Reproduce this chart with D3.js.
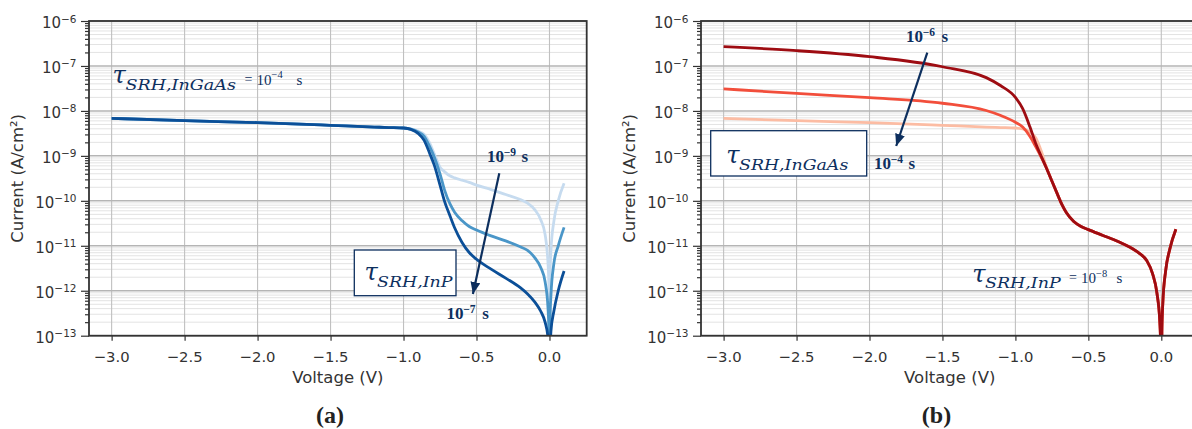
<!DOCTYPE html>
<html><head><meta charset="utf-8">
<script src="https://cdn.jsdelivr.net/npm/d3@7/dist/d3.min.js"></script>
<style>body{margin:0;background:#fff}svg{display:block}</style>
</head><body>
<svg id="chart" width="1192" height="429"></svg>
<script>
// ---------------- data ----------------
const voltage = [-3.0, -2.5, -2.0, -1.5, -1.2, -1.1, -1.0, -0.95, -0.9, -0.86, -0.82, -0.79, -0.75, -0.72, -0.68, -0.65, -0.6, -0.55, -0.5, -0.4, -0.3, -0.2, -0.15, -0.1, -0.06, -0.03, -0.01, -0.004, 0.0, 0.004, 0.01, 0.03, 0.06, 0.1];

// panel (a): tau_SRH,InGaAs = 1e-4 s, tau_SRH,InP varied
const curA_InP_1e9 = [6.85e-9, 6.07e-9, 5.5e-9, 4.79e-9, 4.37e-9, 4.27e-9, 4.17e-9, 3.98e-9, 3.55e-9, 3.02e-9, 1.9e-9, 1.12e-9, 5.6e-10, 4.47e-10, 3.55e-10, 3.24e-10, 2.88e-10, 2.57e-10, 2.24e-10, 1.78e-10, 1.38e-10, 1.07e-10, 8.9e-11, 6.3e-11, 3.8e-11, 1.78e-11, 4.0e-12, 1.26e-12, 1e-16, 2.5e-12, 7.9e-12, 3.5e-11, 1.0e-10, 2.45e-10];
const curA_InP_1e8 = [6.85e-9, 6.07e-9, 5.5e-9, 4.79e-9, 4.37e-9, 4.27e-9, 4.17e-9, 3.95e-9, 3.39e-9, 2.75e-9, 1.58e-9, 9.5e-10, 3.98e-10, 1.78e-10, 8.3e-11, 5.6e-11, 3.63e-11, 2.69e-11, 2.24e-11, 1.66e-11, 1.29e-11, 9.5e-12, 7.9e-12, 5.4e-12, 3.3e-12, 1.58e-12, 4.0e-13, 1.26e-13, 1e-16, 2.5e-13, 7.9e-13, 4.0e-12, 1.0e-11, 2.57e-11];
const curA_InP_1e7 = [6.85e-9, 6.07e-9, 5.5e-9, 4.79e-9, 4.37e-9, 4.27e-9, 4.17e-9, 3.89e-9, 3.16e-9, 2.24e-9, 1.12e-9, 6.3e-10, 2.24e-10, 1.0e-10, 4.47e-11, 2.51e-11, 1.2e-11, 7.08e-12, 5.01e-12, 3.02e-12, 1.91e-12, 1.17e-12, 8.5e-13, 5.6e-13, 3.5e-13, 2.0e-13, 9e-14, 2.5e-14, 1e-16, 3.2e-14, 1.26e-13, 3.5e-13, 1.0e-12, 2.75e-12];

// panel (b): tau_SRH,InP = 1e-8 s, tau_SRH,InGaAs varied
const curB_InGaAs_1e4 = [6.85e-9, 6.07e-9, 5.5e-9, 4.79e-9, 4.37e-9, 4.27e-9, 4.17e-9, 3.98e-9, 3.39e-9, 2.5e-9, 1.2e-9, 6.0e-10, 2.75e-10, 1.62e-10, 8.1e-11, 5.4e-11, 3.47e-11, 2.69e-11, 2.29e-11, 1.7e-11, 1.26e-11, 8.7e-12, 6.8e-12, 4.7e-12, 2.4e-12, 8.9e-13, 2.0e-13, 5e-14, 1e-16, 1.26e-13, 5e-13, 2.8e-12, 8.9e-12, 2.34e-11];
const curB_InGaAs_1e5 = [3.09e-8, 2.45e-8, 1.97e-8, 1.48e-8, 1.02e-8, 7.9e-9, 5.6e-9, 4.37e-9, 2.69e-9, 1.58e-9, 8.9e-10, 5.6e-10, 2.75e-10, 1.62e-10, 8.1e-11, 5.4e-11, 3.47e-11, 2.69e-11, 2.29e-11, 1.7e-11, 1.26e-11, 8.7e-12, 6.8e-12, 4.7e-12, 2.4e-12, 8.9e-13, 2.0e-13, 5e-14, 1e-16, 1.26e-13, 5e-13, 2.8e-12, 8.9e-12, 2.34e-11];
const curB_InGaAs_1e6 = [2.69e-7, 2.19e-7, 1.61e-7, 9.6e-8, 5.5e-8, 3.63e-8, 2.0e-8, 1.12e-8, 4.37e-9, 1.86e-9, 9.3e-10, 5.6e-10, 2.75e-10, 1.62e-10, 8.1e-11, 5.4e-11, 3.47e-11, 2.69e-11, 2.29e-11, 1.7e-11, 1.26e-11, 8.7e-12, 6.8e-12, 4.7e-12, 2.4e-12, 8.9e-13, 2.0e-13, 5e-14, 1e-16, 1.26e-13, 5e-13, 2.8e-12, 8.9e-12, 2.34e-11];

const seriesA = [curA_InP_1e9, curA_InP_1e8, curA_InP_1e7];
const colorsA = ["#c6dbef", "#4a96c8", "#0b4f98"];
const seriesB = [curB_InGaAs_1e4, curB_InGaAs_1e5, curB_InGaAs_1e6];
const colorsB = ["#fcbca3", "#f24e3b", "#9e0c12"];

const yTickExponents = [-6, -7, -8, -9, -10, -11, -12, -13];
const xTickValues = [-3.0, -2.5, -2.0, -1.5, -1.0, -0.5, 0.0];
const xTickLabels = ["\u22123.0", "\u22122.5", "\u22122.0", "\u22121.5", "\u22121.0", "\u22120.5", "0.0"];
const xLabelText = "Voltage (V)";
const yLabelText = "Current (A/cm\u00b2)";
const panelTitles = ["(a)", "(b)"];

// ---------------- layout ----------------
const svg = d3.select("#chart");
const TOP = 21, BOTTOM = 335.7;
const NAVY = "#0d2f5e";
const panels = [
  {x0: 89, x1: 586.7, series: seriesA, colors: colorsA, title: panelTitles[0], titleX: 330, ylabX: 23},
  {x0: 701, x1: 1198.5, series: seriesB, colors: colorsB, title: panelTitles[1], titleX: 936.5, ylabX: 635}
];
const y = d3.scaleLog().domain([1e-13, 1e-6]).range([BOTTOM, TOP]);
const minorVals = [];
for (let e = -13; e < -6; e++) for (let k = 2; k <= 9; k++) minorVals.push(k * Math.pow(10, e));

panels.forEach((p, pi) => {
  const x = d3.scaleLinear().domain([-3.155, 0.255]).range([p.x0, p.x1]);
  p.x = x;
  const g = svg.append("g");
  // grid
  g.append("g").selectAll("line").data(minorVals).join("line")
    .attr("x1", p.x0).attr("x2", p.x1).attr("y1", d => y(d)).attr("y2", d => y(d))
    .attr("stroke", "#e3e3e3").attr("stroke-width", 1);
  g.append("g").selectAll("line").data(xTickValues).join("line")
    .attr("x1", d => x(d)).attr("x2", d => x(d)).attr("y1", TOP).attr("y2", BOTTOM)
    .attr("stroke", "#c0c0c0").attr("stroke-width", 1.1);
  g.append("g").selectAll("line").data(yTickExponents).join("line")
    .attr("x1", p.x0).attr("x2", p.x1).attr("y1", d => y(Math.pow(10, d))).attr("y2", d => y(Math.pow(10, d)))
    .attr("stroke", "#b5b5b5").attr("stroke-width", 1.5);

  // curves
  const clipId = "clip" + pi;
  svg.append("clipPath").attr("id", clipId).append("rect")
    .attr("x", p.x0).attr("y", TOP).attr("width", p.x1 - p.x0).attr("height", BOTTOM - TOP);
  const line = d3.line().x((d, i) => x(voltage[i])).y(d => y(d)).curve(d3.curveMonotoneX);
  g.append("g").attr("clip-path", `url(#${clipId})`).selectAll("path").data(p.series).join("path")
    .attr("d", d => line(d)).attr("fill", "none")
    .attr("stroke", (d, i) => p.colors[i]).attr("stroke-width", 2.8)
    .attr("stroke-linejoin", "round").attr("stroke-linecap", "butt");

  // axes ticks
  const yAxisMajor = d3.axisLeft(y).tickValues(yTickExponents.map(e => Math.pow(10, e))).tickSize(8).tickFormat("");
  const yAxisMinor = d3.axisLeft(y).tickValues(minorVals).tickSize(4).tickFormat("");
  const ga = g.append("g").attr("transform", `translate(${p.x0},0)`).call(yAxisMajor);
  const gm = g.append("g").attr("transform", `translate(${p.x0},0)`).call(yAxisMinor);
  [ga, gm].forEach(s => { s.select(".domain").remove(); s.selectAll("line").attr("stroke", "#333").attr("stroke-width", 1.2); });
  const xAxis = d3.axisBottom(x).tickValues(xTickValues).tickSize(5).tickFormat("");
  const gx = g.append("g").attr("transform", `translate(0,${BOTTOM})`).call(xAxis);
  gx.select(".domain").remove();
  gx.selectAll("line").attr("stroke", "#333").attr("stroke-width", 1.2);

  // spines
  g.append("rect").attr("x", p.x0).attr("y", TOP).attr("width", p.x1 - p.x0).attr("height", BOTTOM - TOP)
    .attr("fill", "none").attr("stroke", "#333").attr("stroke-width", 1.8);

  // y tick labels
  yTickExponents.forEach(e => {
    const t = g.append("text").attr("x", p.x0 - 12.5).attr("y", y(Math.pow(10, e)) + 7.3)
      .attr("text-anchor", "end").attr("font-family", "DejaVu Sans").attr("font-size", 15).attr("fill", "#333");
    t.append("tspan").text("10");
    t.append("tspan").attr("dy", -5.8).attr("font-size", 10.5).text("\u2212" + Math.abs(e));
  });
  // x tick labels
  g.append("g").selectAll("text").data(xTickValues).join("text")
    .attr("x", d => x(d)).attr("y", 361.5).attr("text-anchor", "middle")
    .attr("font-family", "DejaVu Sans").attr("font-size", 14.8).attr("fill", "#333")
    .text((d, i) => xTickLabels[i]);
  // axis labels
  g.append("text").attr("x", (p.x0 + p.x1) / 2).attr("y", 382.5).attr("text-anchor", "middle")
    .attr("font-family", "DejaVu Sans").attr("font-size", 16.5).attr("fill", "#333").text(xLabelText);
  g.append("text").attr("transform", `translate(${p.ylabX},${(TOP + BOTTOM) / 2}) rotate(-90)`)
    .attr("text-anchor", "middle").attr("font-family", "DejaVu Sans").attr("font-size", 16.5).attr("fill", "#333").text(yLabelText);
  // panel title
  g.append("text").attr("x", p.titleX).attr("y", 423).attr("text-anchor", "middle")
    .attr("font-family", "Liberation Serif").attr("font-weight", "bold").attr("font-size", 24).attr("fill", "#222").text(p.title);
});

// ---------------- annotations ----------------
const defs = svg.append("defs");
defs.append("marker").attr("id", "arrowhead").attr("markerUnits", "userSpaceOnUse")
  .attr("markerWidth", 14).attr("markerHeight", 12).attr("refX", 12).attr("refY", 5)
  .attr("orient", "auto").append("path").attr("d", "M0,0 L12,5 L0,10 Z").attr("fill", NAVY);

function tauText(xT, yT, sub, subX, subLen, tauSize, subSize) {
  const g = svg.append("g").attr("fill", NAVY).attr("font-family", "DejaVu Serif").attr("font-style", "italic");
  g.append("text").attr("x", xT).attr("y", yT).attr("font-size", tauSize).text("\u03c4");
  g.append("text").attr("x", subX).attr("y", yT + 6.5).attr("font-size", subSize)
    .attr("textLength", subLen).attr("lengthAdjust", "spacingAndGlyphs").text(sub);
}
function eqText(x0, yb, exp, sX) {
  const g = svg.append("g").attr("fill", NAVY).attr("font-family", "Liberation Serif");
  g.append("text").attr("x", x0).attr("y", yb - 1).attr("font-size", 14).text("=");
  g.append("text").attr("x", x0 + 12).attr("y", yb).attr("font-size", 15).text("10");
  g.append("text").attr("x", x0 + 27).attr("y", yb - 6.5).attr("font-size", 10.5).text("\u2212" + exp);
  g.append("text").attr("x", sX).attr("y", yb).attr("font-size", 15).text("s");
}
function boldLabel(x0, yb, exp, sX) {
  const g = svg.append("g").attr("fill", NAVY).attr("font-family", "Liberation Serif").attr("font-weight", "bold");
  g.append("text").attr("x", x0).attr("y", yb).attr("font-size", 17).text("10");
  g.append("text").attr("x", x0 + 16.8).attr("y", yb - 6.5).attr("font-size", 11.5).text("\u2212" + exp);
  g.append("text").attr("x", sX).attr("y", yb).attr("font-size", 17).text("s");
}
function box(x0, y0, w, h) {
  svg.append("rect").attr("x", x0).attr("y", y0).attr("width", w).attr("height", h)
    .attr("fill", "#fff").attr("stroke", NAVY).attr("stroke-width", 1.3);
}
function arrow(x1, y1, x2, y2) {
  svg.append("line").attr("x1", x1).attr("y1", y1).attr("x2", x2).attr("y2", y2)
    .attr("stroke", NAVY).attr("stroke-width", 2.2).attr("marker-end", "url(#arrowhead)");
}

// panel (a)
tauText(112.5, 83, "SRH,InGaAs", 125.5, 110.5, 24, 15);
eqText(244.5, 84.5, "4", 296.5);
box(354.3, 250, 101.7, 45.7);
tauText(364.5, 280, "SRH,InP", 377, 75.5, 24, 15);
boldLabel(487, 162, "9", 521.5);
arrow(499.3, 173.3, 472.9, 294);
boldLabel(446.5, 319, "7", 482.3);

// panel (b)
box(710.7, 130.7, 156, 45.3);
tauText(726.2, 163.3, "SRH,InGaAs", 739, 109.3, 24, 15);
boldLabel(906, 42.3, "6", 941.5);
arrow(927.3, 52.7, 896.2, 146);
boldLabel(874, 169, "4", 908.5);
tauText(972.2, 281.5, "SRH,InP", 985, 75.7, 24, 15);
eqText(1069, 283, "8", 1116.5);
</script>
</body></html>
